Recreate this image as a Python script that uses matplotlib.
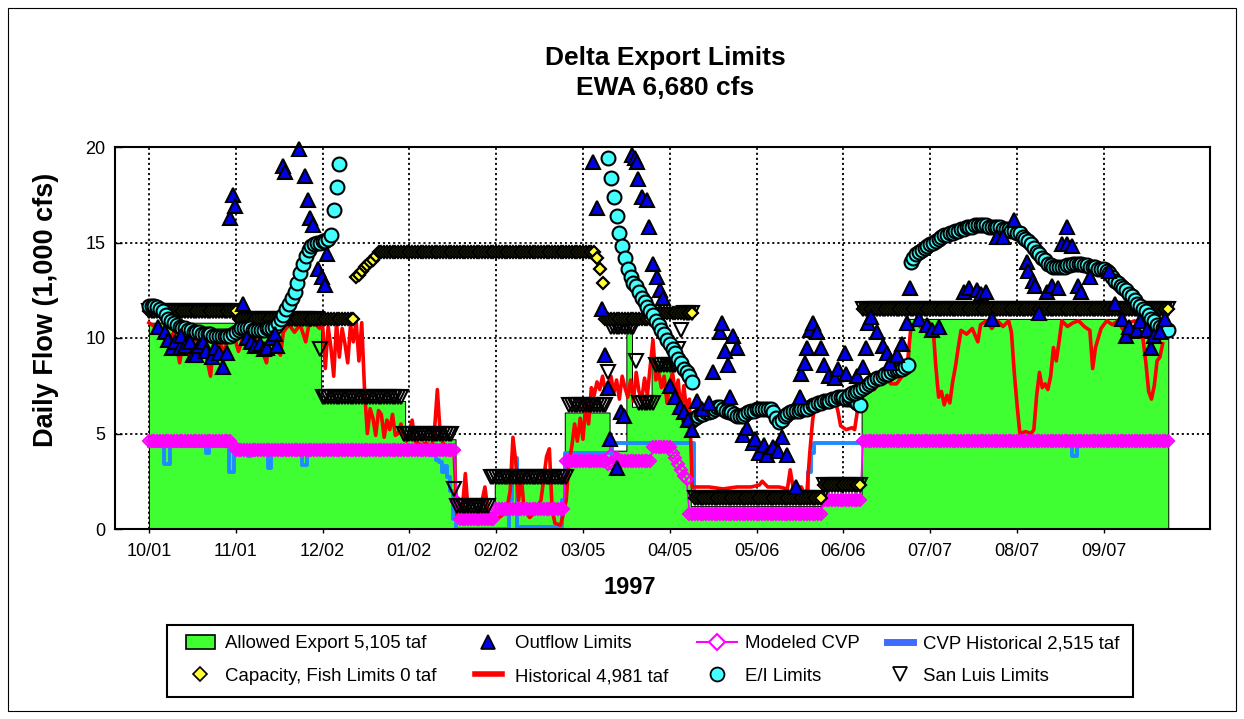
import numpy as np
import matplotlib
matplotlib.use('Agg')
import matplotlib.pyplot as plt
from matplotlib.patches import Rectangle, Patch
from matplotlib.lines import Line2D

plt.rcParams['font.family'] = ['Liberation Sans', 'DejaVu Sans']

# ---------------- data (x = day of water year 1997, 0 = 10/01/1996) ----------------
tick_labels = ['10/01', '11/01', '12/02', '01/02', '02/02', '03/05', '04/05',
               '05/06', '06/06', '07/07', '08/07', '09/07']
tick_days = [0, 31, 62, 93, 124, 155, 186, 217, 248, 279, 310, 341]
n_days = 365

# step series as (first day, last day, value)
allowed_runs = [(0, 61, 10.8), (62, 91, 6.7), (92, 109, 4.7), (110, 123, 0.9),
                (124, 148, 2.4), (149, 164, 6.1), (165, 170, 4.1), (171, 172, 10.4),
                (173, 179, 6.4), (180, 186, 8.8), (187, 187, 7.5), (188, 188, 6.9),
                (189, 189, 6.5), (190, 190, 6.1), (191, 191, 5.9), (192, 192, 5.7),
                (193, 193, 5.2), (194, 240, 1.2), (241, 254, 1.7), (255, 256, 7.1),
                (257, 258, 7.4), (259, 260, 7.7), (261, 262, 7.9), (263, 264, 8.0),
                (265, 266, 8.2), (267, 268, 8.3), (269, 270, 8.4), (271, 271, 8.6),
                (272, 348, 11.0), (349, 364, 10.0)]

capacity_runs = [(0, 31, 11.4), (32, 73, 11.0), (74, 74, 13.2), (75, 75, 13.3),
                 (76, 76, 13.5), (77, 77, 13.7), (78, 78, 13.8), (79, 79, 14.0),
                 (80, 80, 14.1), (81, 81, 14.3), (82, 159, 14.5), (160, 160, 14.2),
                 (161, 161, 13.6), (162, 162, 12.9), (163, 179, 11.0), (180, 194, 11.3),
                 (195, 240, 1.6), (241, 254, 2.3), (255, 364, 11.5)]

sanluis_runs = [(0, 31, 11.4), (32, 60, 11.0), (61, 61, 9.4), (62, 90, 6.9),
                (91, 108, 5.0), (109, 109, 2.1), (110, 121, 1.2), (122, 149, 2.7),
                (150, 163, 6.5), (164, 164, 8.2), (165, 173, 10.6), (174, 174, 8.8),
                (175, 180, 6.6), (181, 188, 8.6), (189, 189, 9.4), (190, 190, 10.4),
                (191, 194, 11.3), (195, 240, 1.6), (241, 254, 2.3), (255, 364, 11.5)]

cvp_model_runs = [(0, 29, 4.6), (30, 30, 4.4), (31, 109, 4.15), (110, 110, 1.4),
                  (111, 123, 0.5), (124, 148, 1.05), (149, 163, 3.55), (164, 164, 3.4),
                  (165, 165, 3.85), (166, 166, 3.3), (167, 167, 3.7), (168, 179, 3.55),
                  (180, 186, 4.3), (187, 187, 4.0), (188, 188, 3.7), (189, 189, 3.4),
                  (190, 190, 3.1), (191, 191, 2.8), (192, 192, 2.6), (193, 240, 0.8),
                  (241, 254, 1.5), (255, 364, 4.6)]

cvp_hist_runs = [(0, 5, 4.35), (6, 7, 3.4), (8, 20, 4.35), (21, 21, 4.0), (22, 28, 4.35),
                 (29, 30, 3.0), (31, 35, 4.0), (36, 36, 3.8), (37, 42, 4.0), (43, 43, 3.2),
                 (44, 54, 4.0), (55, 56, 3.35), (57, 100, 4.0), (101, 102, 3.9),
                 (103, 103, 3.6), (104, 104, 3.5), (105, 105, 3.0), (106, 106, 3.3),
                 (107, 107, 2.7), (108, 108, 2.0), (109, 109, 0.5), (110, 128, 0.0),
                 (129, 129, 1.5), (130, 131, 3.7), (132, 147, 0.1), (148, 148, 1.5),
                 (149, 165, 4.0), (166, 194, 4.5), (195, 234, 1.7), (235, 235, 2.0),
                 (236, 236, 3.0), (237, 237, 4.0), (238, 329, 4.5), (330, 331, 3.8),
                 (332, 364, 4.5)]

hist_day = [0, 2, 4, 5, 7, 9, 11, 12, 14, 16, 18, 20, 22, 23, 25, 27, 29, 31, 32, 34,
            36, 38, 40, 42, 43, 45, 47, 48, 50, 52, 54, 56, 57, 59, 61, 62, 63, 64, 65, 66,
            67, 68, 69, 70, 71, 72, 73, 74, 75, 76, 77, 78, 79, 80, 81, 82, 83, 84, 85, 86,
            87, 88, 89, 90, 91, 92, 94, 95, 97, 99, 101, 102, 103, 104, 105, 107, 109, 110,
            111, 112, 113, 114, 116, 118, 119, 120, 121, 122, 124, 126, 128, 129, 130, 131,
            132, 133, 134, 136, 138, 140, 142, 143, 144, 145, 147, 148, 149, 150, 151, 152,
            153, 154, 155, 156, 157, 158, 159, 160, 161, 162, 163, 164, 165, 166, 167, 168,
            169, 170, 171, 172, 173, 174, 175, 176, 177, 178, 179, 180, 181, 182, 183, 184,
            185, 186, 187, 188, 189, 190, 191, 192, 193, 194, 200, 205, 210, 215, 218, 219,
            221, 225, 228, 229, 230, 233, 234, 235, 236, 237, 238, 239, 241, 243, 245, 246,
            247, 249, 251, 252, 253, 254, 255, 257, 259, 261, 263, 265, 267, 269, 271, 272,
            274, 276, 278, 280, 281, 282, 283, 284, 285, 286, 287, 288, 289, 290, 292, 294,
            296, 297, 299, 301, 303, 305, 307, 308, 309, 310, 311, 313, 315, 316, 317, 318,
            319, 320, 321, 322, 323, 324, 325, 326, 328, 330, 332, 334, 336, 337, 338, 340,
            342, 344, 346, 348, 350, 352, 354, 355, 356, 357, 358, 359, 360, 361, 362]
hist_val = [10.8, 10.6, 10.2, 10.5, 9.9, 10.3, 8.7, 9.6, 9.2, 10.0, 9.1, 9.4, 8.0, 9.5,
            9.8, 9.3, 10.4, 9.8, 9.3, 10.2, 10.5, 9.9, 9.5, 8.7, 10.0, 9.6, 9.1, 10.3, 10.7,
            10.3, 10.7, 9.8, 10.6, 10.8, 10.5, 10.8, 8.4, 10.6, 9.5, 8.0, 10.8, 9.0, 10.5,
            9.7, 8.7, 10.7, 9.8, 10.9, 8.8, 10.8, 7.3, 5.0, 6.3, 5.8, 4.9, 6.2, 6.0, 4.8,
            5.7, 5.2, 6.0, 4.9, 5.0, 5.5, 4.7, 4.6, 5.7, 4.6, 4.4, 4.5, 4.3, 5.2, 7.3, 5.0,
            4.5, 4.2, 4.0, 0.6, 0.8, 1.2, 2.9, 0.9, 0.6, 0.8, 1.5, 2.2, 1.0, 0.6, 0.5, 0.7,
            1.2, 2.0, 4.8, 3.5, 1.5, 2.7, 1.0, 0.6, 0.9, 1.5, 3.8, 4.2, 1.0, 0.3, 0.2, 0.8,
            1.5, 3.5, 4.3, 5.5, 4.6, 5.8, 4.7, 6.5, 5.5, 7.4, 7.0, 7.7, 7.3, 8.0, 7.2, 7.6,
            8.0, 7.1, 7.8, 6.8, 8.0, 7.4, 6.9, 7.8, 6.7, 8.2, 7.2, 6.8, 7.9, 7.0, 8.5, 9.9,
            7.8, 8.2, 7.4, 8.0, 6.6, 7.6, 8.2, 7.0, 7.8, 6.0, 7.5, 6.2, 6.8, 2.2, 2.2, 2.1,
            2.2, 2.2, 2.3, 2.5, 2.2, 2.2, 2.1, 3.1, 2.2, 2.2, 1.8, 2.0, 4.0, 5.7, 6.6, 6.9,
            6.6, 6.8, 6.7, 6.2, 5.4, 5.2, 5.3, 5.2, 6.2, 6.6, 7.1, 7.4, 7.3, 7.7, 7.9, 7.6,
            7.6, 8.0, 8.9, 10.4, 10.8, 10.5, 10.9, 10.6, 8.5, 6.9, 7.2, 6.5, 7.0, 6.6, 7.7,
            8.5, 9.5, 10.4, 10.2, 10.5, 9.8, 10.7, 10.9, 10.5, 10.9, 10.6, 10.9, 10.3, 8.2,
            6.5, 5.0, 5.1, 5.0, 5.2, 7.0, 8.2, 7.4, 7.6, 7.3, 8.0, 9.5, 8.8, 9.8, 10.9, 10.6,
            10.8, 10.9, 10.6, 10.4, 8.4, 9.5, 10.5, 10.9, 10.7, 10.9, 10.4, 10.8, 10.9, 10.3,
            9.9, 8.7, 7.2, 6.8, 7.5, 8.8, 9.0, 9.7]

outflow_day = [3.3, 5.7, 6.9, 8.1, 9.5, 11.0, 11.6, 13.0, 14.6, 15.7, 17.0, 18.0, 19.3, 20.5,
               22.4, 23.6, 25.0, 26.4, 27.8, 29.0, 30.0, 30.7, 33.6, 35.0, 36.5, 38.0, 39.6,
               41.0, 42.0, 43.9, 45.0, 45.7, 48.0, 48.6, 53.6, 55.7, 56.8, 57.5, 58.6, 60.4,
               61.8, 62.9, 63.6, 158.6, 160.0, 161.8, 162.9, 164.0, 164.6, 167.0, 168.5,
               169.7, 172.5, 173.5, 174.3, 174.6, 176.0, 177.8, 178.6, 180.0, 181.4, 182.5,
               183.6, 186.0, 188.0, 189.6, 190.9, 192.5, 194.0, 195.6, 197.5, 200.0, 201.6,
               204.0, 204.6, 205.8, 206.9, 207.5, 208.6, 210.0, 212.0, 213.4, 215.7, 216.4,
               218.0, 219.5, 220.7, 223.0, 224.5, 226.0, 227.8, 231.2, 232.5, 233.0, 234.3,
               235.0, 236.0, 237.0, 238.6, 240.0, 241.0, 243.0, 245.0, 246.0, 248.6, 249.0,
               253.0, 255.0, 256.0, 256.8, 258.0, 260.0, 262.0, 263.6, 264.6, 267.0, 269.0,
               270.7, 271.8, 275.0, 277.8, 279.6, 282.0, 290.9, 293.0, 295.6, 297.0, 299.0,
               301.0, 302.8, 305.0, 309.0, 313.5, 314.0, 315.7, 316.4, 318.0, 320.7, 322.5,
               324.8, 326.0, 327.8, 328.0, 329.6, 331.8, 333.0, 336.0, 343.0, 345.0, 347.5,
               349.0, 350.0, 352.8, 354.0, 356.4, 358.0, 359.0, 361.0, 362.8]
outflow_val = [10.6, 10.3, 9.9, 9.5, 9.8, 9.5, 10.1, 9.6, 9.8, 9.1, 9.1, 9.6, 9.8, 9.3,
               9.0, 9.5, 9.2, 8.5, 9.2, 16.3, 17.5, 16.9, 11.8, 10.0, 9.8, 9.6, 9.7,
               9.4, 9.5, 10.0, 10.2, 9.6, 19.0, 18.7, 19.9, 18.5, 17.2, 16.3, 15.9, 13.6,
               13.2, 12.8, 14.4, 19.2, 16.8, 11.5, 9.1, 7.4, 4.7, 3.2, 6.1,
               5.9, 19.6, 19.4, 19.2, 18.3, 17.4, 17.2, 15.8, 13.9, 13.2, 12.5,
               12.1, 7.5, 6.9, 6.4, 6.1, 5.7, 5.2, 6.7, 6.3, 6.6, 8.2,
               10.3, 10.8, 9.3, 8.6, 6.9, 10.1, 9.5, 4.9, 5.3, 4.5, 4.7,
               4.0, 4.4, 3.9, 4.3, 4.1, 4.8, 3.9, 2.2, 6.9, 8.1, 8.7,
               9.5, 10.4, 10.8, 10.3, 9.5, 8.6, 8.0, 7.9, 8.4, 9.2, 8.1,
               8.0, 8.5, 9.5, 10.8, 11.1, 10.3, 9.6, 9.2, 8.7, 9.1, 9.7,
               10.8, 12.6, 11.0, 10.7, 10.4, 10.6, 12.4, 12.6, 12.5, 12.3, 12.4,
               11.0, 15.3, 15.3, 16.2, 14.0, 13.5, 13.0, 12.7, 11.3, 12.4, 12.7,
               12.6, 14.9, 14.9, 15.8, 14.8, 12.7, 12.4, 13.2, 13.5, 11.8, 11.0,
               10.1, 10.6, 10.4, 10.9, 10.4, 9.5, 10.1, 10.3, 11.0]

# E/I limits: segments of daily values (first day, values)
ei_oct_start = 0
ei_oct_vals = [11.7, 11.7, 11.7, 11.6, 11.5, 11.4, 11.2, 11.0, 10.9, 10.8, 10.7, 10.6, 10.5,
               10.5, 10.4, 10.4, 10.3, 10.3, 10.3, 10.2, 10.2, 10.2, 10.2, 10.1, 10.1, 10.1,
               10.1, 10.1, 10.1, 10.1, 10.2, 10.3, 10.4, 10.5, 10.5, 10.5, 10.5, 10.4, 10.4,
               10.4, 10.4, 10.4, 10.5, 10.5, 10.5, 10.6, 10.8, 11.0, 11.2, 11.5, 11.8, 12.1,
               12.4, 12.9, 13.4, 13.9, 14.3, 14.6, 14.8, 14.9, 15.0, 15.0, 15.1, 15.1, 15.2,
               15.4, 16.7, 17.9, 19.1]
ei_mar_start = 164
ei_mar_vals = [19.4, 18.4, 17.4, 16.4, 15.5, 14.8, 14.2, 13.6, 13.2, 12.9, 12.7, 12.4, 12.1,
               11.9, 11.6, 11.4, 11.2, 10.9, 10.7, 10.4, 10.2, 9.9, 9.7, 9.4, 9.2, 8.9, 8.7,
               8.4, 8.2, 8.0, 7.7]
ei_apr_start = 193
ei_apr_vals = [5.7, 5.7, 5.8, 5.9, 6.0, 6.0, 6.1, 6.1, 6.2, 6.3, 6.4, 6.4, 6.3, 6.2, 6.1,
               6.1, 6.0, 5.9, 5.9, 5.9, 6.0, 6.1, 6.2, 6.2, 6.3, 6.3, 6.3, 6.3, 6.3, 6.3,
               6.1, 5.8, 5.6, 5.7, 5.9, 6.0, 6.1, 6.2, 6.2, 6.2, 6.3, 6.3, 6.3, 6.4, 6.5,
               6.5, 6.6, 6.6, 6.7, 6.7, 6.7, 6.8, 6.8, 6.9, 6.9, 6.9, 6.8, 6.8, 6.8, 6.7,
               6.6, 6.5]
ei_jun_start = 250
ei_jun_vals = [7.0, 7.1, 7.1, 7.2, 7.3, 7.4, 7.5, 7.6, 7.7, 7.8, 7.9, 7.9, 8.0, 8.1, 8.1,
               8.2, 8.3, 8.3, 8.4, 8.4, 8.5, 8.6]
ei_jul_start = 272
ei_jul_vals = [14.0, 14.2, 14.4, 14.5, 14.6, 14.7, 14.8, 14.9, 15.0, 15.1, 15.2, 15.3, 15.4,
               15.4, 15.5, 15.5, 15.6, 15.6, 15.7, 15.7, 15.8, 15.8, 15.8, 15.9, 15.9, 15.9,
               15.9, 15.9, 15.8, 15.8, 15.8, 15.8, 15.8, 15.7, 15.7, 15.7, 15.6, 15.6, 15.5,
               15.5, 15.3, 15.2, 15.1, 14.9, 14.7, 14.5, 14.4, 14.2, 14.1, 13.9, 13.8, 13.7,
               13.7, 13.7, 13.7, 13.7, 13.8, 13.8, 13.9, 13.9, 13.9, 13.9, 13.8, 13.8, 13.7,
               13.7, 13.7, 13.6, 13.6, 13.6, 13.5, 13.4, 13.2, 13.0, 12.9, 12.7, 12.6, 12.5,
               12.3, 12.2, 12.0, 11.8, 11.7, 11.5, 11.4, 11.2, 11.0, 10.9, 10.7, 10.6, 10.5,
               10.4, 10.4]

legend_labels = ['Allowed Export 5,105 taf', 'Capacity, Fish Limits 0 taf', 'Outflow Limits',
                 'Historical 4,981 taf', 'Modeled CVP', 'E/I Limits',
                 'CVP Historical 2,515 taf', 'San Luis Limits']


def expand(runs):
    out = np.full(n_days, np.nan)
    for a, b, v in runs:
        out[a:b + 1] = v
    return out


days = np.arange(n_days)
allowed = expand(allowed_runs)
capacity = expand(capacity_runs)
sanluis = expand(sanluis_runs)
cvp_model = expand(cvp_model_runs)
cvp_hist = expand(cvp_hist_runs)

ei_segments = [(ei_oct_start, ei_oct_vals), (ei_mar_start, ei_mar_vals),
               (ei_apr_start, ei_apr_vals), (ei_jun_start, ei_jun_vals),
               (ei_jul_start, ei_jul_vals)]

# ---------------- styling ----------------
GREEN = '#3FFF33'
RED = '#FF0000'
CVPBLUE = '#1E8CFF'
MAGENTA = '#FF00FF'
YELLOW = '#FFFF33'
CYAN = '#44FFFF'
TRIBLUE = '#0000E6'
W, H = 1244, 719

fig = plt.figure(figsize=(W / 100, H / 100), dpi=100)
ax = fig.add_axes([115 / W, 190 / H, 1095 / W, 382 / H])

ax.fill_between(days, 0, allowed, step='mid', facecolor=GREEN, edgecolor='black',
                linewidth=0.7, zorder=1)
ax.plot(days, cvp_hist, color=CVPBLUE, lw=2.8, drawstyle='steps-mid', zorder=2)
ax.plot(hist_day, hist_val, color=RED, lw=2.6, zorder=3)
ax.plot(days, cvp_model, color=MAGENTA, lw=1.2, marker='D', ms=6.5, mfc='none',
        mec=MAGENTA, mew=1.5, zorder=4, clip_on=False)
ax.plot(days, sanluis, ls='none', marker='v', ms=10, mfc='none', mec='black',
        mew=1.5, zorder=5, clip_on=False)
ax.plot(days, capacity, ls='none', marker='D', ms=6.3, mfc=YELLOW, mec='black',
        mew=1.6, zorder=6, clip_on=False)
for start, vals in ei_segments:
    ax.plot(start + np.arange(len(vals)), vals, ls='none', marker='o', ms=10, mfc=CYAN,
            mec='black', mew=1.5, zorder=7, clip_on=False)
ax.plot(outflow_day, outflow_val, ls='none', marker='^', ms=10.5, mfc=TRIBLUE,
        mec='black', mew=1.5, zorder=8, clip_on=False)

ax.set_xlim(-12.1, 378.9)
ax.set_ylim(0, 20)
ax.set_xticks(tick_days)
ax.set_xticklabels(tick_labels)
ax.set_yticks([0, 5, 10, 15, 20])
ax.tick_params(axis='x', direction='out', length=3, width=1, labelsize=13, pad=7)
ax.tick_params(axis='y', direction='in', length=5, width=1, labelsize=13, pad=7)
ax.grid(True, color='black', linestyle=(0, (1.2, 1.6)), linewidth=1.3, zorder=0.5)
ax.set_axisbelow(True)
for s in ax.spines.values():
    s.set_linewidth(1.5)
    s.set_zorder(9)

fig.text(630 / W, 1 - 587 / H, '1997', ha='center', va='center', fontsize=17,
         fontweight='bold')
fig.text(46 / W, 1 - 310 / H, 'Daily Flow (1,000 cfs)', rotation=90, ha='center',
         va='center', fontsize=19.5, fontweight='bold')

fig.text(665 / W, 1 - 58 / H, 'Delta Export Limits', ha='center', va='center',
         fontsize=19, fontweight='bold')
fig.text(665 / W, 1 - 88 / H, 'EWA 6,680 cfs', ha='center', va='center',
         fontsize=19, fontweight='bold')

# legend: frame + four columns placed like the reference
fig.patches.append(Rectangle((167 / W, 1 - 697 / H), 966 / W, 72 / H,
                             transform=fig.transFigure, fill=False, edgecolor='black',
                             linewidth=1.5, zorder=5))
col_handles = [
    [Patch(facecolor=GREEN, edgecolor='black', linewidth=1.2),
     Line2D([], [], ls='none', marker='D', ms=7, mfc=YELLOW, mec='black', mew=1.2)],
    [Line2D([], [], ls='none', marker='^', ms=10, mfc=TRIBLUE, mec='black', mew=1.2),
     Line2D([], [], color=RED, lw=4)],
    [Line2D([], [], color=MAGENTA, lw=1.5, marker='D', ms=8, mfc='white', mec=MAGENTA,
            mew=1.5),
     Line2D([], [], ls='none', marker='o', ms=10, mfc=CYAN, mec='black', mew=1.3)],
    [Line2D([], [], color='#3F6CFF', lw=5),
     Line2D([], [], ls='none', marker='v', ms=10, mfc='white', mec='black', mew=1.3)],
]
# (handle left px, handle length em, text pad em)
col_layout = [(186, 1.55, 0.55), (475, 1.45, 0.7), (697, 2.15, 0.45), (887, 1.4, 0.55)]
for i, (hx, hl, tp) in enumerate(col_layout):
    fig.legend(col_handles[i], legend_labels[2 * i:2 * i + 2], loc='center left',
               bbox_to_anchor=(hx / W, 1 - 660 / H), ncol=1, fontsize=13.4,
               frameon=False, handlelength=hl, handleheight=0.75, handletextpad=tp,
               labelspacing=0.84, borderpad=0, borderaxespad=0)

# figure border
fig.patches.append(Rectangle((8 / W, 8 / H), 1228 / W, 703 / H,
                             transform=fig.transFigure, fill=False, edgecolor='black',
                             linewidth=0.8))

fig.savefig('out.png', dpi=100)
